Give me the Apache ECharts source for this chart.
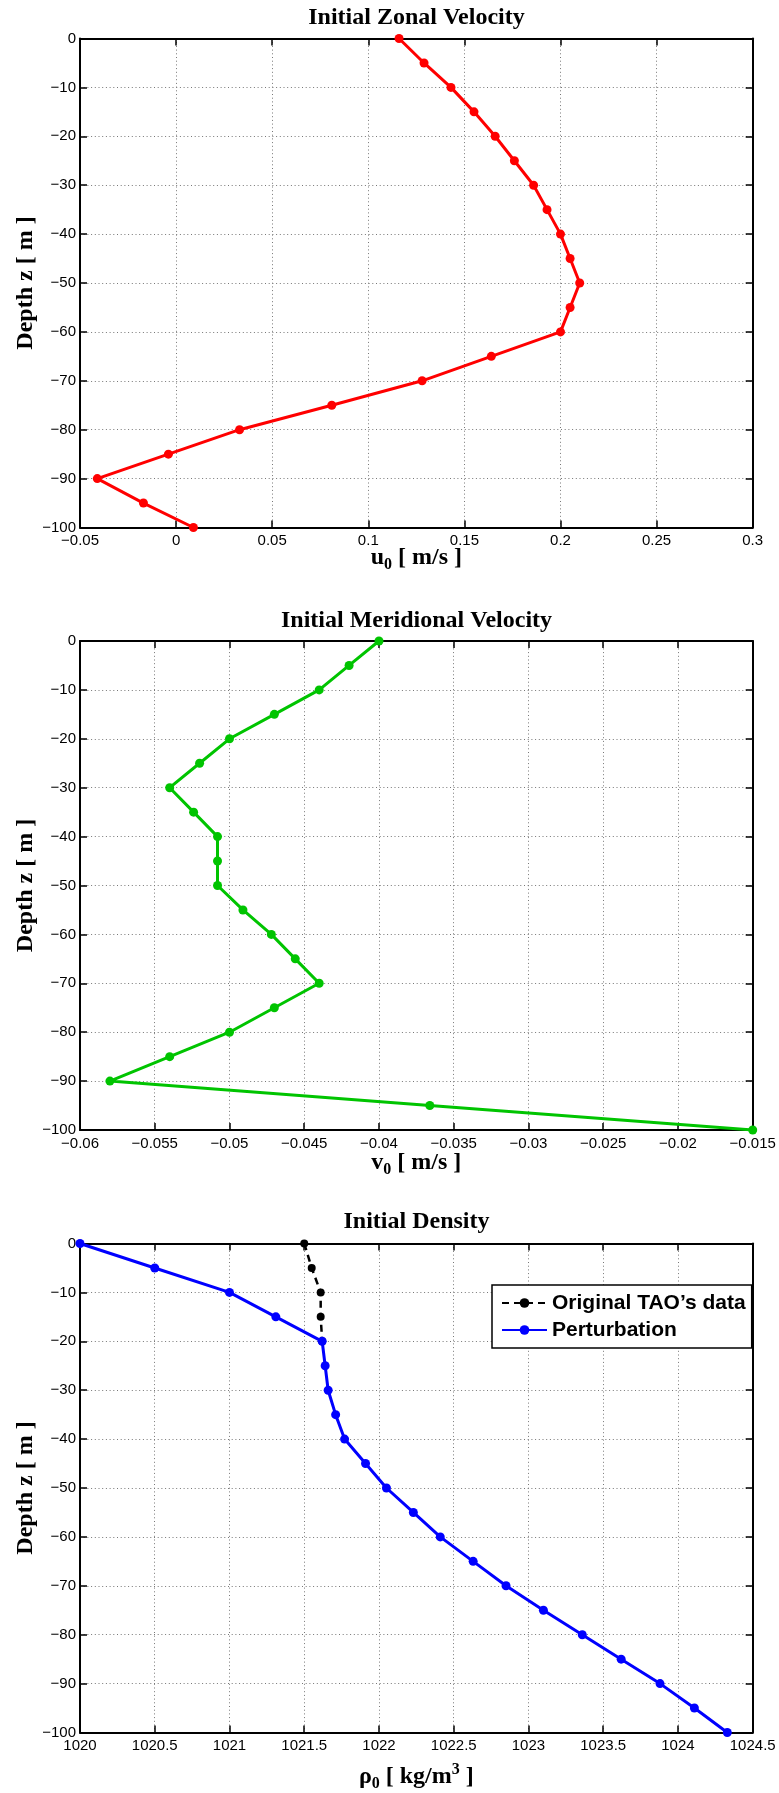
<!DOCTYPE html>
<html>
<head>
<meta charset="utf-8">
<script src="https://cdn.jsdelivr.net/npm/echarts@6/dist/echarts.min.js"></script>
<style>
  html, body { margin: 0; padding: 0; background: #fff; }
  #chart { width: 779px; height: 1793px; }
</style>
</head>
<body>
<div id="chart"></div>
<script>
// Depth levels (m), shared by all three profiles
const depths = [0, -5, -10, -15, -20, -25, -30, -35, -40, -45, -50, -55, -60, -65, -70, -75, -80, -85, -90, -95, -100];

// Initial zonal velocity u0 (m/s)
const zonalVelocity = [0.116, 0.129, 0.143, 0.155, 0.166, 0.176, 0.186, 0.193, 0.200, 0.205, 0.210,
                       0.205, 0.200, 0.164, 0.128, 0.081, 0.033, -0.004, -0.041, -0.017, 0.009];

// Initial meridional velocity v0 (m/s)
const meridionalVelocity = [-0.040, -0.042, -0.044, -0.047, -0.050, -0.052, -0.054, -0.0524, -0.0508, -0.0508, -0.0508,
                            -0.0491, -0.0472, -0.0456, -0.044, -0.047, -0.050, -0.054, -0.058, -0.0366, -0.015];

// Initial density rho0 (kg/m^3), perturbed profile
const densityPerturbation = [1020.00, 1020.50, 1021.00, 1021.31, 1021.62, 1021.64, 1021.66, 1021.71, 1021.77, 1021.91, 1022.05,
                             1022.23, 1022.41, 1022.63, 1022.85, 1023.10, 1023.36, 1023.62, 1023.88, 1024.11, 1024.33];

// Original TAO density near the surface
const taoDepths = [0, -5, -10, -15, -20];
const taoDensity = [1021.50, 1021.55, 1021.61, 1021.61, 1021.62];

// Axis ranges: [min, max, step]
const depthRange = [-100, 0, 10];
const zonalRange = [-0.05, 0.3, 0.05];
const meridionalRange = [-0.06, -0.015, 0.005];
const densityRange = [1020, 1024.5, 0.5];

const titles = ['Initial Zonal Velocity', 'Initial Meridional Velocity', 'Initial Density'];
const xNames = ['{b|u}{s|0}{b| [ m/s ]}', '{b|v}{s|0}{b| [ m/s ]}', '{b|\u03c1}{s|0}{b| [ kg/m}{p|3}{b| ]}'];
const yName = 'Depth z [ m ]';
const legendNames = ['Original TAO\u2019s data', 'Perturbation'];

function pairs(xs, zs) { return xs.map((x, i) => [x, zs[i]]); }

function fmt(v) {
  const r = parseFloat(v.toFixed(6));
  if (r === 0) return '0';
  return (r < 0 ? '\u2212' : '') + String(Math.abs(r));
}

const SERIF = '"Liberation Serif", "Times New Roman", serif';
const SANS = '"Liberation Sans", Arial, Helvetica, sans-serif';

const layout = [
  { top: 38.5, titleY: 17.7, nameGap: 16.5 },
  { top: 641, titleY: 620.5, nameGap: 18.5 },
  { top: 1243.5, titleY: 1221.7, nameGap: 30 }
];
const xRanges = [zonalRange, meridionalRange, densityRange];

const axisLine = { show: true, onZero: false, lineStyle: { color: '#000', width: 2 } };
const axisTick = { show: true, inside: true, length: 7, lineStyle: { color: '#000', width: 1.5 } };
const gridLine = { show: true, lineStyle: { color: '#777', width: 1, type: [1, 2.7] } };
const tickFont = { color: '#000', fontFamily: SANS, fontSize: 15 };
const nameRich = {
  b: { fontFamily: SERIF, fontWeight: 'bold', fontSize: 24, lineHeight: 28, color: '#000' },
  s: { fontFamily: SERIF, fontWeight: 'bold', fontSize: 16, lineHeight: 28, padding: [14, 0, 0, 0], color: '#000' },
  p: { fontFamily: SERIF, fontWeight: 'bold', fontSize: 16, lineHeight: 28, padding: [0, 0, 14, 0], color: '#000' }
};

const grid = [], xAxis = [], yAxis = [], graphic = [];
layout.forEach((L, i) => {
  const xr = xRanges[i];
  grid.push({ left: 80, right: 26.3, top: L.top, height: 489, outerBoundsMode: 'none', containLabel: false });
  xAxis.push({
    type: 'value', gridIndex: i, position: 'bottom', min: xr[0], max: xr[1], interval: xr[2],
    axisLine, axisTick,
    axisLabel: Object.assign({ margin: 6, formatter: fmt, showMinLabel: true, showMaxLabel: true }, tickFont),
    splitLine: gridLine,
    name: xNames[i], nameLocation: 'middle', nameGap: L.nameGap, nameMoveOverlap: false,
    nameTextStyle: { rich: nameRich, color: '#000' }
  });
  xAxis.push({
    type: 'value', gridIndex: i, position: 'top', min: xr[0], max: xr[1], interval: xr[2],
    axisLine, axisTick, axisLabel: { show: false }, splitLine: { show: false }
  });
  yAxis.push({
    type: 'value', gridIndex: i, position: 'left', min: depthRange[0], max: depthRange[1], interval: depthRange[2],
    axisLine, axisTick,
    axisLabel: Object.assign({ margin: 4, formatter: fmt, showMinLabel: true, showMaxLabel: true }, tickFont),
    splitLine: gridLine,
    name: yName, nameLocation: 'middle', nameGap: 40.5, nameMoveOverlap: false,
    nameTextStyle: { fontFamily: SERIF, fontWeight: 'bold', fontSize: 24, lineHeight: 28, color: '#000' }
  });
  yAxis.push({
    type: 'value', gridIndex: i, position: 'right', min: depthRange[0], max: depthRange[1], interval: depthRange[2],
    axisLine, axisTick, axisLabel: { show: false }, splitLine: { show: false }
  });
  graphic.push({
    type: 'text', x: 416.5, y: L.titleY, silent: true,
    style: { text: titles[i], align: 'center', verticalAlign: 'middle', fill: '#000',
             font: 'bold 24px ' + SERIF }
  });
});

const lineSeries = (name, data, color, xi, opts) => Object.assign({
  type: 'line', name, data, xAxisIndex: xi * 2, yAxisIndex: xi * 2,
  symbol: 'circle', symbolSize: 9, showSymbol: true,
  lineStyle: { color, width: 3 }, itemStyle: { color },
  emphasis: { disabled: true }, animation: false
}, opts || {});

const series = [
  lineSeries('u0', pairs(zonalVelocity, depths), '#ff0000', 0),
  lineSeries('v0', pairs(meridionalVelocity, depths), '#00c400', 1),
  lineSeries(legendNames[0], pairs(taoDensity, taoDepths), '#000000', 2,
             { symbolSize: 8, lineStyle: { color: '#000', width: 2.5, type: [7, 5] } }),
  lineSeries(legendNames[1], pairs(densityPerturbation, depths), '#0000ff', 2)
];

const chart = echarts.init(document.getElementById('chart'), null, { renderer: 'canvas' });
chart.setOption({
  backgroundColor: '#fff',
  animation: false,
  grid, xAxis, yAxis, series, graphic,
  legend: {
    show: true, orient: 'vertical', left: 492, top: 1285, data: legendNames,
    itemWidth: 45, itemHeight: 12, itemGap: 1, padding: [5, 6, 5, 9],
    borderColor: '#000', borderWidth: 1.5, borderRadius: 0, backgroundColor: '#fff',
    selectedMode: false,
    textStyle: { fontFamily: SANS, fontWeight: 'bold', fontSize: 21, lineHeight: 26, color: '#000' }
  }
});
</script>
</body>
</html>
